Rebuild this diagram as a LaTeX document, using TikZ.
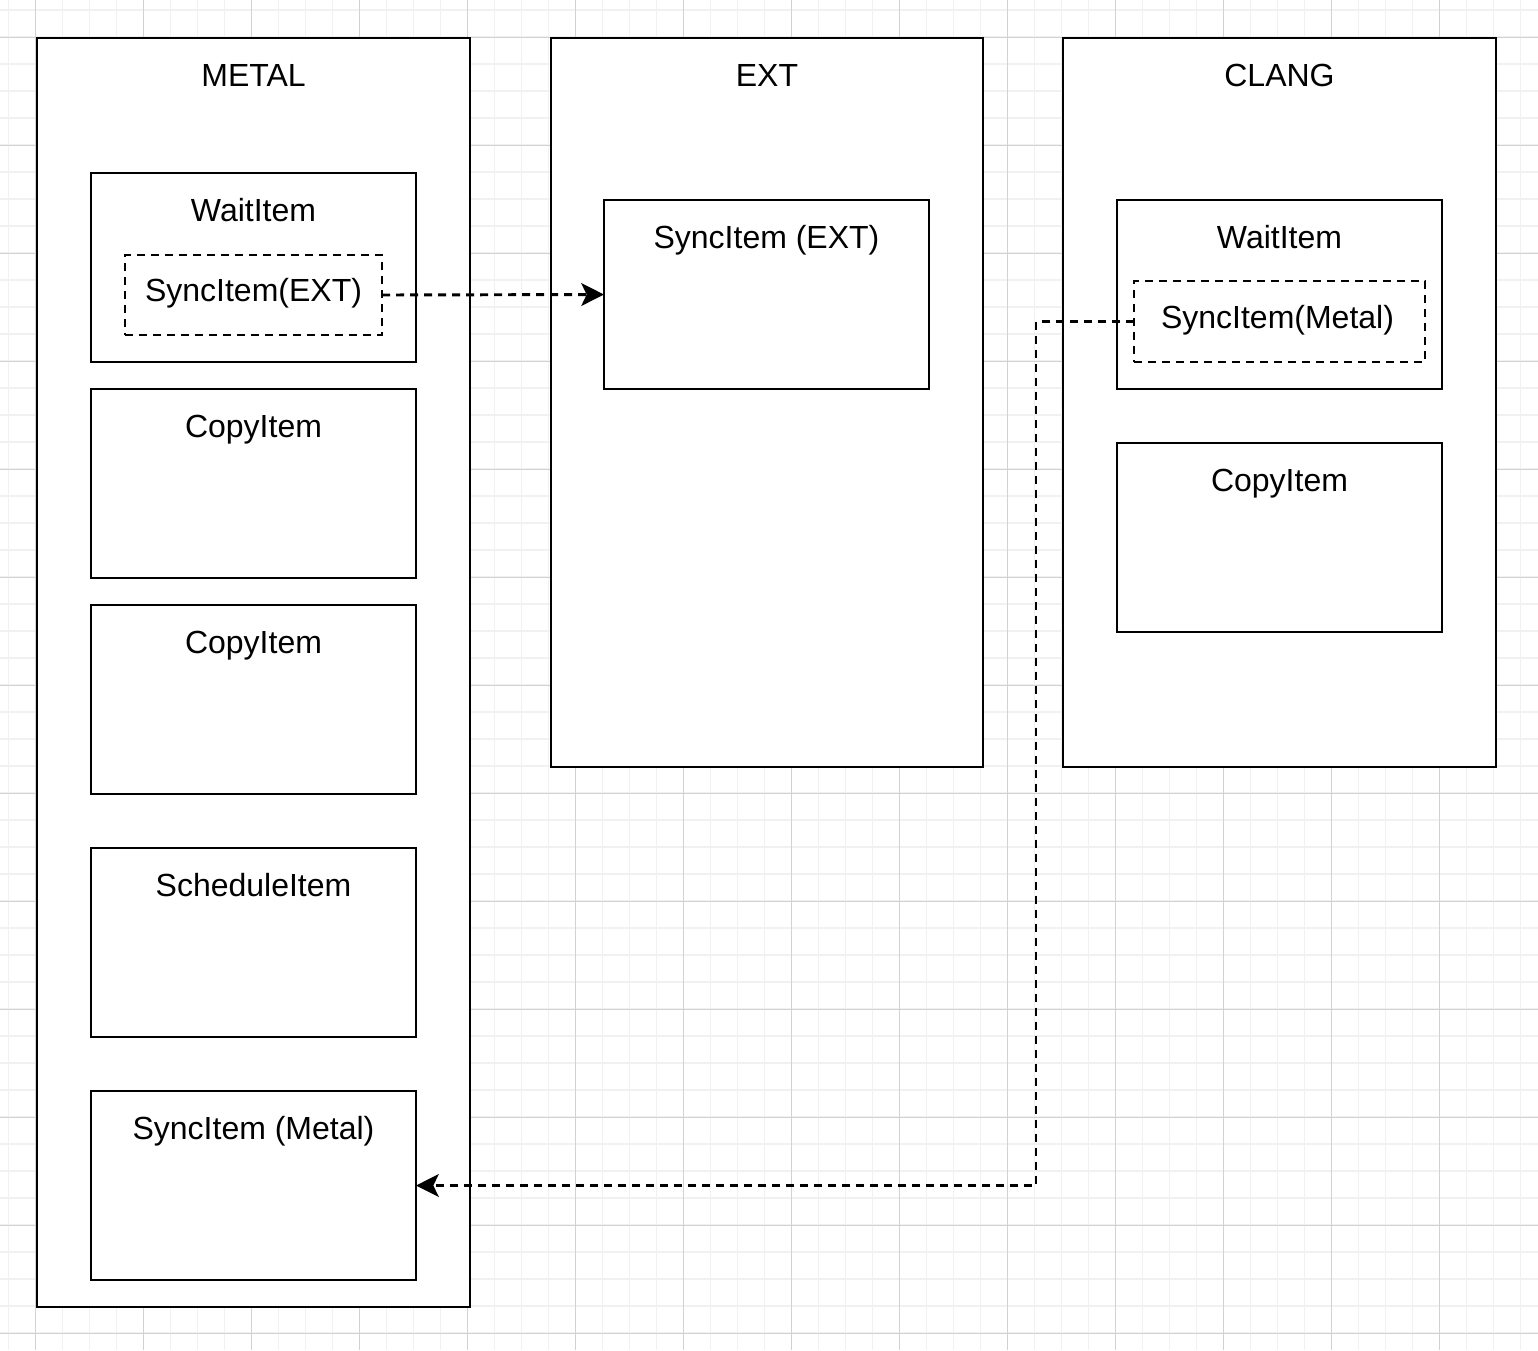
\documentclass[tikz,border=0pt]{standalone}
\usepackage{fontspec}
\setmainfont{Liberation Sans}
\usetikzlibrary{fit,arrows.meta}
\definecolor{gminor}{HTML}{F1F1F1}
\definecolor{gmajor}{HTML}{D2D2D2}
\tikzset{
  box/.style={draw=black, line width=2.2pt, fill=white, inner sep=0pt, outer sep=0pt},
  dbox/.style={draw=black, line width=2.2pt, dash pattern=on 6pt off 4.5pt, inner sep=0pt, outer sep=0pt},
  lbl/.style={anchor=base, inner sep=0pt, font=\fontsize{24}{28}\selectfont},
  conn/.style={line width=2.2pt, dash pattern=on 6pt off 4.5pt,
    -{Stealth[length=17pt, width=17pt, inset=4pt]}},
}
\begin{document}
\begin{tikzpicture}[x=0.75pt, y=-0.75pt]
\useasboundingbox (0,0) rectangle (1538,1350);
\fill[white] (0,0) rectangle (1538,1350);
% grid
\foreach \i in {0,...,56} \draw[gminor, line width=1.1pt] ({8.5+27*\i},0) -- ({8.5+27*\i},1350);
\foreach \i in {0,...,49} \draw[gminor, line width=1.1pt] (0,{10+27*\i}) -- (1538,{10+27*\i});
\foreach \i in {0,...,14} \draw[gmajor, line width=0.7pt] ({35.5+108*\i},0) -- ({35.5+108*\i},1350);
\foreach \i in {0,...,12} \draw[gmajor, line width=0.7pt] (0,{37+108*\i}) -- (1538,{37+108*\i});

% containers
\node[box, fit={(37,38) (470,1307)}] (metal) {};
\node[box, fit={(551,38) (983,767)}] (ext) {};
\node[box, fit={(1063,38) (1496,767)}] (clang) {};
\node[lbl] (metalT) at (253.5,86) {METAL};
\node[lbl] (extT) at (767,86) {EXT};
\node[lbl] (clangT) at (1279.5,86) {CLANG};

% METAL items
\node[box, fit={(91,173) (416,362)}] (mwait) {};
\node[lbl] (mwaitT) at (253.5,221) {WaitItem};
\node[dbox, fit={(125,255) (382,335)}] (syncext) {};
\node[lbl] (syncextT) at (253.5,301) {SyncItem(EXT)};
\node[box, fit={(91,389) (416,578)}] (mcopy1) {};
\node[lbl] (mcopy1T) at (253.5,437) {CopyItem};
\node[box, fit={(91,605) (416,794)}] (mcopy2) {};
\node[lbl] (mcopy2T) at (253.5,653) {CopyItem};
\node[box, fit={(91,848) (416,1037)}] (msched) {};
\node[lbl] (mschedT) at (253.5,896) {ScheduleItem};
\node[box, fit={(91,1091) (416,1280)}] (metalsync) {};
\node[lbl] (metalsyncT) at (253.5,1139) {SyncItem (Metal)};

% EXT items
\node[box, fit={(604,200) (929,389)}] (extsync) {};
\node[lbl] (extsyncT) at (766.5,248) {SyncItem (EXT)};

% CLANG items
\node[box, fit={(1117,200) (1442,389)}] (cwait) {};
\node[lbl] (cwaitT) at (1279.5,248) {WaitItem};
\node[dbox, fit={(1134,281) (1425,362)}] (syncmetal) {};
\node[lbl] (syncmetalT) at (1277.5,328) {SyncItem(Metal)};
\node[box, fit={(1117,443) (1442,632)}] (ccopy) {};
\node[lbl] (ccopyT) at (1279.5,491) {CopyItem};

% connectors
\draw[conn] (syncext.east) -- (extsync.west);
\coordinate (bend) at (1036,321.5);
\draw[conn] (syncmetal.west) -- (bend) |- (metalsync.east);
\end{tikzpicture}
\end{document}
